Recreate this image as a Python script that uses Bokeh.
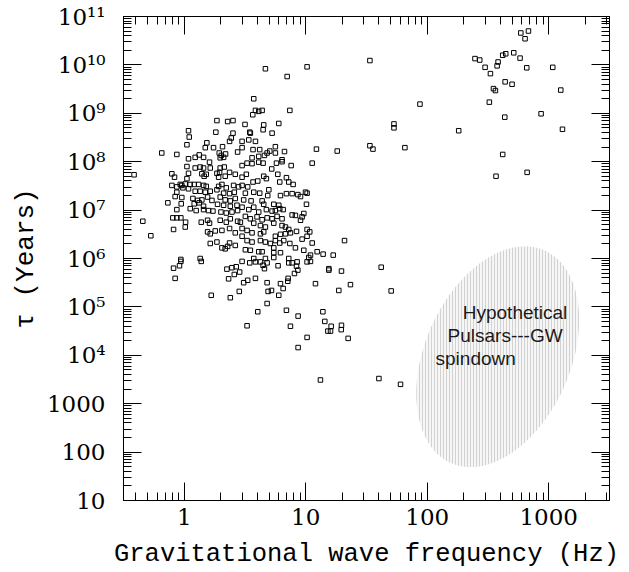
import numpy as np
from bokeh.plotting import figure
from bokeh.models import FixedTicker, LogAxis, Range1d, ColumnDataSource
from bokeh.embed import file_html
from bokeh.resources import INLINE
from bokeh.core.properties import value

# ---- data: pulsars (log10 of GW frequency in Hz, log10 of characteristic age in years)
log10_freq_hz = [
    0.269, 0.357, 0.401, 0.035, 0.26, 0.401, 0.041, 0.387, 0.373, 0.186, 0.022, 0.173, 0.241, 0.315,
    -0.185, -0.061, 0.123, 0.288, 0.305, 0.34, 0.439, 0.035, 0.09, 0.159, 0.296, 0.324,
    0.668, 1.011, 0.847, 0.572, 0.586, 0.613, 0.641, 0.564, 0.869, 0.5, 0.654, 0.649, 0.778, 0.539,
    0.544, 0.723, 0.476, 0.531, 0.586, 0.476, 0.566, 0.621, 0.75, 0.704, 0.682, 0.75, 0.825, 1.088,
    1.259, 0.558, 0.613, 0.66, 0.805,
    -0.413, 0.022, 0.09, 0.131, 0.159, 0.208, 0.214, 0.296, 0.329, -0.102, -0.08, 0.035, 0.145, 0.164,
    0.181, 0.269, 0.291, 0.283, 0.337, 0.373, 0.42, 0.022, -0.033, 0.008, 0.049, 0.082, 0.118, 0.159,
    0.181, -0.102, -0.061, -0.02, -0.011, 0.283, 0.31, 0.346, 0.406, 0.447, 0.035, 0.09, 0.131, 0.173,
    0.214, 0.269, -0.061, 0.324, 0.373, 0.412, -0.075, -0.02, 0.071, 0.11, 0.145, 0.192, 0.228, 0.296,
    0.337, 0.379, 0.42, -0.135, -0.025, 0.082, 0.123, 0.159, 0.274, 0.324, 0.379, 0.434, -0.061, 0.049,
    0.098, 0.159, 0.2, 0.236, 0.302, 0.346, 0.393, 0.439, -0.094, -0.061, -0.028, 0.011, 0.14, 0.192,
    0.208, 0.296, 0.346, 0.379, 0.439, -0.341, -0.088, 0.008, 0.192, 0.214, 0.255, 0.31, 0.373, 0.42,
    -0.275, 0.214, 0.269, 0.373, 0.42, 0.31, 0.337, 0.357, -0.028, 0.131,
    0.476, 0.517, 0.558, 0.613, 0.649, 0.759, 0.805, 0.88, 1.053, 0.72, 0.476, 0.511, 0.654, 0.676,
    0.77, 0.786, 0.841, 0.86, 0.896, 0.566, 0.605, 0.476, 0.522, 0.503, 0.572, 0.621, 0.696, 0.687,
    0.792, 0.841, 0.888, 0.935, 0.957, 0.998, 1.011, 0.489, 0.55, 0.641, 0.654, 0.737, 0.778, 0.814,
    1.006, 0.476, 0.531, 0.572, 0.613, 0.676, 0.723, 0.75, 0.786, 0.888, 0.915, 0.984, 0.97, 0.957,
    0.503, 0.544, 0.599, 0.641, 0.682, 0.723, 0.764, 0.805, 0.462, 0.572, 0.627, 0.668, 0.737, 0.805,
    0.833, 0.86, 0.924, 1.011, 1.033, 0.476, 0.517, 0.558, 0.627, 0.654, 0.75, 0.792, 0.833, 0.874,
    0.97, 1.011, 1.053, 0.476, 0.517, 0.558, 0.627, 0.668, 0.709, 0.75, 0.786, 0.819, 0.869, 0.915,
    0.984, 1.319, 0.503, 0.544, 0.613, 0.641, 0.737, 0.737, 0.792, 1.039, 1.025, 1.094, 1.143, 1.226,
    0.572, 0.668, 0.737, 0.86,
    -0.028, 0.14, -0.088, -0.039, -0.075, 0.351, 0.392, 0.428, 0.456, 0.365, 0.412, 0.222, 0.379, 0.453,
    0.476, 0.539, 0.586, 0.627, 0.682, 0.649, 0.66, 0.772, 0.86, 0.888, 0.929, 1.011, 1.039, 0.924,
    0.935, 1.19, 1.19, 1.294, 0.907, 0.489, 0.522, 0.586, 0.682, 0.855, 0.852, 0.792, 0.814, 0.69,
    0.718, 0.778, 1.08, 1.368, 1.272, 0.682, 0.605, 0.841, 0.937, 0.517, 0.874, 1.141, 1.157, 1.209,
    1.182, 1.204, 1.294, 1.292, 1.349, 1.011, 0.937, 1.121,
    1.528, 2.77, 2.833, 2.805, 2.393, 2.432, 2.476, 2.621, 2.646, 2.712, 2.764, 2.583, 2.575, 2.52,
    2.819, 3.033, 2.641, 2.698, 2.545, 2.561, 3.099, 2.511, 1.94, 2.937, 2.638, 1.726, 1.726, 2.259,
    3.113, 1.528, 1.553, 1.816, 2.621, 2.566, 2.822, 1.621, 1.703, 1.602, 1.78,
]
log10_tau_yr = [
    8.85, 8.83, 8.85, 8.64, 8.61, 8.59, 8.51, 8.49, 8.42, 8.39, 8.35, 8.29, 8.29, 8.31,
    8.18, 8.15, 8.14, 8.18, 8.13, 8.16, 8.20, 8.06, 8.09, 8.09, 8.08, 8.09,
    9.92, 9.96, 9.76, 9.30, 9.06, 9.04, 9.06, 8.97, 9.06, 8.77, 8.76, 8.66, 8.79, 8.61,
    8.59, 8.59, 8.42, 8.45, 8.42, 8.29, 8.25, 8.25, 8.31, 8.22, 8.18, 8.18, 8.21, 8.26,
    8.22, 8.08, 8.11, 8.13, 8.04,
    7.73, 7.90, 7.87, 7.89, 7.87, 7.99, 7.87, 7.87, 7.89, 7.75, 7.68, 7.76, 7.75, 7.70,
    7.74, 7.76, 7.78, 7.68, 7.70, 7.78, 7.74, 7.65, 7.53, 7.54, 7.53, 7.53, 7.53, 7.51,
    7.49, 7.51, 7.48, 7.51, 7.46, 7.49, 7.53, 7.46, 7.51, 7.48, 7.44, 7.39, 7.39, 7.37,
    7.39, 7.42, 7.37, 7.35, 7.34, 7.37, 7.28, 7.26, 7.24, 7.20, 7.21, 7.27, 7.20, 7.27,
    7.21, 7.19, 7.24, 7.15, 7.13, 7.13, 7.15, 7.08, 7.12, 7.10, 7.08, 7.10, 7.01, 7.03,
    6.99, 7.01, 6.99, 6.98, 6.96, 6.94, 6.96, 6.99, 6.84, 6.84, 6.84, 6.75, 6.75, 6.79,
    6.73, 6.79, 6.75, 6.82, 6.77, 6.77, 6.60, 6.65, 6.55, 6.51, 6.57, 6.58, 6.62, 6.53,
    6.47, 6.31, 6.34, 6.32, 6.27, 6.22, 6.20, 6.25, 5.98, 6.0,
    7.92, 7.97, 7.96, 7.99, 7.97, 7.97, 8.0, 7.92, 7.97, 7.85, 7.68, 7.74, 7.70, 7.65,
    7.74, 7.58, 7.67, 7.58, 7.53, 7.58, 7.60, 7.51, 7.48, 7.35, 7.37, 7.35, 7.42, 7.30,
    7.30, 7.34, 7.34, 7.32, 7.28, 7.37, 7.35, 7.21, 7.19, 7.19, 7.12, 7.12, 7.10, 7.01,
    7.12, 7.06, 7.01, 7.06, 6.96, 7.01, 6.98, 6.99, 7.03, 6.90, 6.89, 6.93, 6.86, 6.79,
    6.87, 6.82, 6.86, 6.80, 6.84, 6.82, 6.87, 6.82, 6.75, 6.73, 6.68, 6.65, 6.73, 6.68,
    6.65, 6.60, 6.56, 6.60, 6.55, 6.62, 6.58, 6.53, 6.51, 6.55, 6.46, 6.50, 6.51, 6.53,
    6.40, 6.46, 6.32, 6.46, 6.37, 6.34, 6.37, 6.34, 6.31, 6.37, 6.32, 6.37, 6.31, 6.22,
    6.17, 6.37, 6.18, 6.17, 6.14, 6.14, 6.22, 6.12, 6.12, 6.07, 6.02, 6.14, 6.09, 6.07,
    6.0, 6.0, 6.02, 6.0,
    5.94, 5.94, 5.80, 5.85, 5.59, 5.78, 5.81, 5.83, 5.72, 5.58, 5.67, 5.24, 5.19, 5.32,
    5.94, 5.91, 5.93, 5.93, 5.91, 5.86, 5.79, 5.85, 5.91, 5.91, 5.93, 5.93, 5.94, 5.84,
    5.76, 5.79, 5.76, 5.74, 5.69, 5.50, 5.55, 5.59, 5.50, 5.59, 5.53, 5.48, 5.38, 5.32,
    5.34, 5.24, 5.48, 5.46, 5.34, 5.07, 4.90, 4.93, 4.81, 4.61, 4.60, 4.90, 4.70, 4.60,
    4.50, 4.50, 4.62, 4.53, 4.35, 4.37, 4.16, 3.49,
    10.09, 10.66, 10.70, 10.54, 10.13, 10.10, 9.95, 10.20, 10.23, 10.25, 10.14, 10.06, 9.98, 9.82,
    9.94, 9.95, 9.65, 9.60, 9.51, 9.47, 9.48, 9.23, 9.19, 8.99, 8.92, 8.78, 8.70, 8.64,
    8.67, 8.33, 8.26, 8.29, 8.15, 7.70, 7.78, 5.82, 5.33, 3.52, 3.40,
]

# Hypothetical GW-spindown region: ellipse in log-log space
ell_center = (2.58, 3.97)          # log10 Hz, log10 yr
ell_half_width_dec = 0.67          # decades in frequency
ell_half_height_dec = 2.28         # decades in age
ell_phase = 1.23                   # tilt (phase offset, rad)

label_lines = ["Hypothetical", "Pulsars---GW", "spindown"]
label_freq = [196.0, 147.0, 117.0]
label_tau = [7.7e4, 2.6e4, 8.6e3]

x_major = [1, 10, 100, 1000]
y_major = [10 ** k for k in range(1, 12)]
y_labels = ["10", "100", "1000", "10⁴", "10⁵", "10⁶", "10⁷", "10⁸", "10⁹", "10¹⁰", "10¹¹"]

freq = 10 ** np.array(log10_freq_hz)
tau = 10 ** np.array(log10_tau_yr)

t = np.linspace(0, 2 * np.pi, 200)
ell_x = 10 ** (ell_center[0] + ell_half_width_dec * np.cos(t))
ell_y = 10 ** (ell_center[1] + ell_half_height_dec * np.cos(t - ell_phase))

p = figure(width=621, height=571, x_axis_type="log", y_axis_type="log",
           x_range=Range1d(10 ** -0.5, 10 ** 3.5), y_range=Range1d(10, 1e11),
           output_backend="svg", toolbar_location=None,
           min_border_left=123, min_border_right=12, min_border_top=16, min_border_bottom=70)
p.grid.visible = False
p.outline_line_color = "black"
p.outline_line_width = 1
p.background_fill_color = "white"
p.border_fill_color = "white"

x_minor = [m * 10 ** k for k in range(-1, 4) for m in range(2, 10)]
y_minor = [m * 10 ** k for k in range(1, 11) for m in range(2, 10)]
xt = FixedTicker(ticks=x_major, minor_ticks=x_minor)
yt = FixedTicker(ticks=y_major, minor_ticks=y_minor)

def style(ax):
    ax.major_tick_in = 18
    ax.major_tick_out = 0
    ax.minor_tick_in = 8
    ax.minor_tick_out = 0
    ax.axis_line_color = "black"
    ax.major_tick_line_color = "black"
    ax.minor_tick_line_color = "black"

xa = p.xaxis[0]
xa.ticker = xt
style(xa)
xa.major_label_overrides = {v: str(v) for v in x_major}
xa.major_label_text_font = "DejaVu Serif"
xa.major_label_text_font_size = "23px"
xa.major_label_text_color = "black"
xa.major_label_standoff = 8
xa.axis_label = "Gravitational wave frequency (Hz)"
xa.axis_label_text_font = "Liberation Mono"
xa.axis_label_text_font_size = "25.5px"
xa.axis_label_text_font_style = "normal"
xa.axis_label_text_color = "black"
xa.axis_label_standoff = 12

ya = p.yaxis[0]
ya.ticker = yt
style(ya)
ya.major_label_overrides = {v: s for v, s in zip(y_major, y_labels)}
ya.major_label_text_font = "DejaVu Serif"
ya.major_label_text_font_size = "23px"
ya.major_label_text_color = "black"
ya.major_label_standoff = 18
ya.axis_label = "τ (Years)"
ya.axis_label_text_font = "Liberation Mono"
ya.axis_label_text_font_size = "26px"
ya.axis_label_text_font_style = "normal"
ya.axis_label_text_color = "black"
ya.axis_label_standoff = 3

top = LogAxis(ticker=FixedTicker(ticks=x_major, minor_ticks=x_minor),
              major_label_overrides={v: " " for v in x_major},
              major_label_text_font_size="1px", major_label_text_alpha=0,
              major_label_standoff=0)
style(top)
p.add_layout(top, "above")
right = LogAxis(ticker=FixedTicker(ticks=y_major, minor_ticks=y_minor),
                major_label_overrides={v: " " for v in y_major},
                major_label_text_font_size="1px", major_label_text_alpha=0,
                major_label_standoff=0)
style(right)
p.add_layout(right, "right")

p.patch(ell_x, ell_y, fill_color="#f6f6f6", fill_alpha=1.0, line_color=None,
        hatch_pattern="vertical_line", hatch_color="#d2d2d2", hatch_scale=3, hatch_weight=1)

p.text(x=label_freq, y=label_tau, text=label_lines, text_font=value("Liberation Sans"),
       text_font_size="19px", text_color="#1a1a1a", text_align="left", text_baseline="alphabetic")

src = ColumnDataSource(dict(f=freq, tau=tau))
p.scatter("f", "tau", source=src, marker="square", size=4.5, fill_color=None,
          line_color="black", line_width=1)

open("out.html", "w").write(file_html(p, INLINE))
